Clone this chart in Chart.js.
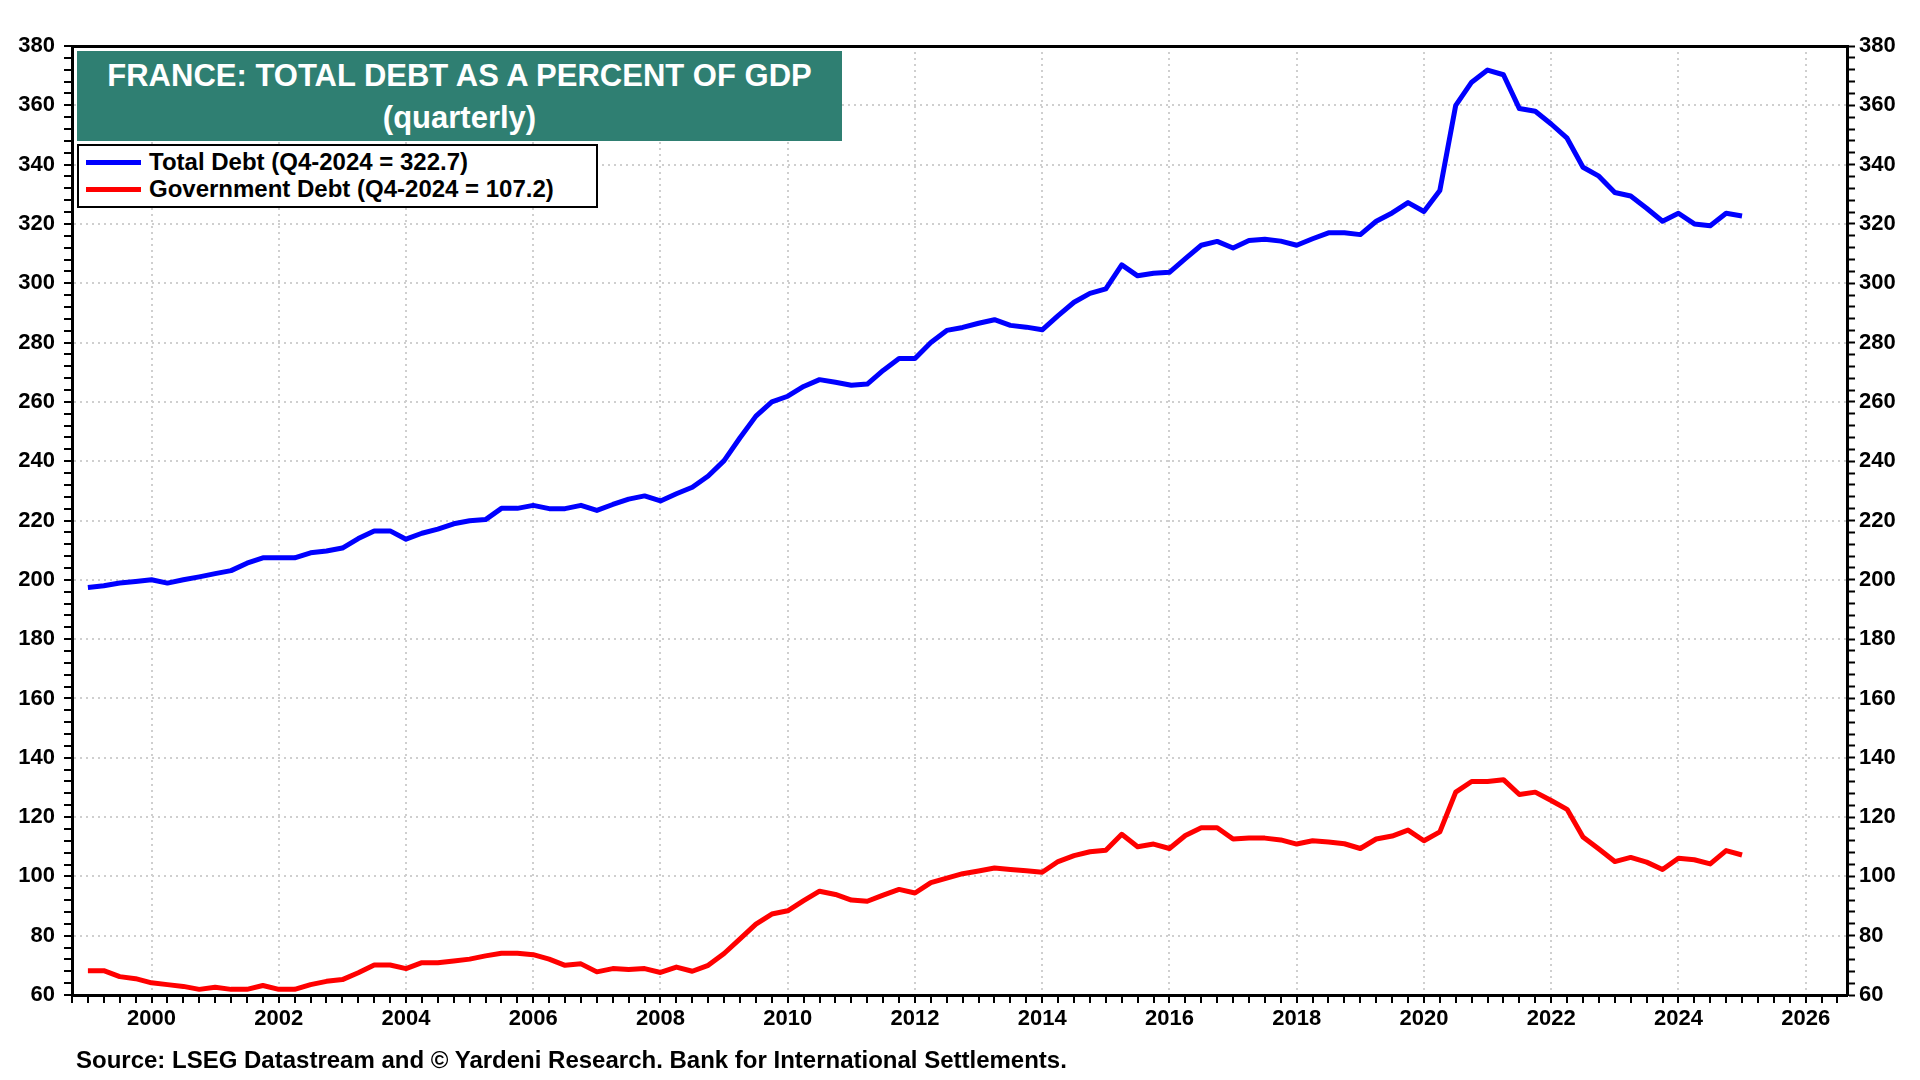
<!DOCTYPE html>
<html>
<head>
<meta charset="utf-8">
<script src="https://cdn.jsdelivr.net/npm/chart.js@4.4.1/dist/chart.umd.min.js"></script>
<style>
  html, body { margin: 0; padding: 0; background: #fff; }
  #wrap { position: relative; width: 1920px; height: 1080px; overflow: hidden; font-family: "Liberation Sans", Arial, sans-serif; }
  #c { position: absolute; left: 0; top: 0; }
  #titleBox { position: absolute; left: 77px; top: 51px; width: 765px; height: 90px; background: #2f7f72; color: #fff; font-weight: bold; text-align: center; }
  #titleBox .l1 { position: absolute; left: 0; right: 0; top: 7px; font-size: 31px; line-height: 36px; }
  #titleBox .l2 { position: absolute; left: 0; right: 0; top: 49px; font-size: 31px; line-height: 36px; }
  #legendBox { position: absolute; left: 77px; top: 144px; width: 517px; height: 60px; border: 2px solid #000; background: #fff; }
  .legItem { position: absolute; left: 0; height: 28px; font-weight: bold; font-size: 24px; line-height: 28px; color: #000; white-space: nowrap; }
  .legItem .sw { position: absolute; left: 7px; top: 12px; width: 55px; height: 5px; }
  .legItem .tx { position: absolute; left: 70px; top: 0; }
  #source { position: absolute; left: 76px; top: 1046px; font-weight: bold; font-size: 24px; line-height: 28px; color: #000; white-space: nowrap; }
</style>
</head>
<body>
<div id="wrap">
  <canvas id="c" width="1920" height="1080"></canvas>
  <div id="titleBox"><div class="l1">FRANCE: TOTAL DEBT AS A PERCENT OF GDP</div><div class="l2">(quarterly)</div></div>
  <div id="legendBox">
    <div class="legItem" style="top:2px;"><div class="sw" style="background:#0000ff"></div><div class="tx">Total Debt (Q4-2024 = 322.7)</div></div>
    <div class="legItem" style="top:29px;"><div class="sw" style="background:#ff0000"></div><div class="tx">Government Debt (Q4-2024 = 107.2)</div></div>
  </div>
  <div id="source">Source: LSEG Datastream and © Yardeni Research. Bank for International Settlements.</div>
</div>
<script>
// ---- Data (quarterly, Q4-1998 .. Q4-2024) ----
const firstYear = 1998;
const firstQuarter = 4;
const quarterCount = 105;

const totalDebt = [
  197.4, 198.0, 198.9, 199.4,
  200.0, 198.9, 200.0, 201.0,
  202.1, 203.1, 205.6, 207.4,
  207.4, 207.4, 209.1, 209.7,
  210.7, 213.9, 216.5, 216.5,
  213.7, 215.7, 217.1, 218.9,
  219.9, 220.3, 224.1, 224.1,
  225.1, 224.0, 224.0, 225.1,
  223.4, 225.4, 227.2, 228.3,
  226.6, 229.0, 231.2, 235.0,
  240.2, 247.9, 255.2, 260.0,
  261.9, 265.2, 267.5, 266.6,
  265.6, 266.0, 270.6, 274.6,
  274.6, 280.0, 284.1, 285.1,
  286.5, 287.7, 285.8, 285.2,
  284.3, 289.1, 293.6, 296.6,
  298.1, 306.2, 302.5, 303.4,
  303.7, 308.3, 312.8, 314.1,
  311.9, 314.4, 314.8, 314.2,
  312.8, 315.0, 317.0, 317.0,
  316.4, 320.9, 323.7, 327.2,
  324.2, 331.3, 360.0, 367.8,
  371.9, 370.3, 358.9, 358.0,
  353.7, 348.9, 339.1, 336.1,
  330.6, 329.4, 325.3, 320.9,
  323.6, 320.0, 319.4, 323.6,
  322.7
];

const governmentDebt = [
  68.2, 68.2, 66.2, 65.5,
  64.1, 63.5, 62.9, 61.9,
  62.6, 61.9, 61.9, 63.2,
  61.9, 61.9, 63.5, 64.6,
  65.2, 67.5, 70.1, 70.1,
  68.9, 70.9, 70.9, 71.5,
  72.1, 73.2, 74.1, 74.1,
  73.6, 72.1, 70.0, 70.5,
  67.8, 68.9, 68.6, 68.9,
  67.6, 69.4, 68.0, 70.0,
  74.0, 78.9, 83.9, 87.3,
  88.4, 91.8, 95.0, 93.9,
  92.0, 91.6, 93.7, 95.6,
  94.4, 97.9, 99.4, 100.9,
  101.8, 102.8, 102.3, 101.9,
  101.4, 105.0, 107.0, 108.3,
  108.8, 114.2, 110.0, 110.9,
  109.4, 113.8, 116.4, 116.4,
  112.6, 112.9, 112.9, 112.3,
  110.9, 112.0, 111.6, 111.0,
  109.4, 112.6, 113.6, 115.6,
  112.0, 115.0, 128.4, 132.0,
  132.0, 132.6, 127.6, 128.4,
  125.6, 122.6, 113.3, 109.2,
  105.0, 106.4, 104.8, 102.3,
  106.1, 105.6, 104.2, 108.7,
  107.2
];

const seriesNames = ["Total Debt (Q4-2024 = 322.7)", "Government Debt (Q4-2024 = 107.2)"];
const seriesColors = ["#0000ff", "#ff0000"];

// Axis settings
const xMin = 1998.75, xMax = 2026.65;
const xLabelEvery = 2;          // years between labels
const xMinorStep = 0.25;        // quarterly minor ticks
const yMin = 60, yMax = 380;
const yLabelStep = 20;
const yMinorStep = 4;

// quarter labels -> plotted at quarter end (decimal year)
const quarterLabels = [];
for (let i = 0; i < quarterCount; i++) {
  const q0 = firstQuarter - 1 + i;
  const yr = firstYear + Math.floor(q0 / 4);
  const q = (q0 % 4) + 1;
  quarterLabels.push("Q" + q + "-" + yr);
}
function quarterEnd(label) {
  const q = parseInt(label.slice(1, 2), 10);
  const yr = parseInt(label.slice(3), 10);
  return yr + q / 4;
}
function toPoints(values) {
  return values.map((v, i) => ({ x: quarterEnd(quarterLabels[i]), y: v }));
}

const FONT = { family: "'Liberation Sans', Arial, sans-serif", size: 22, weight: 'bold' };
const GRID_COLOR = '#cfcfcf';

function isXMajor(v) { return Math.abs(v - Math.round(v)) < 1e-6 && Math.round(v) % xLabelEvery === 0; }
function isYMajor(v) { return Math.abs(v % yLabelStep) < 1e-6; }

function xTicks(scale) {
  const t = [];
  for (let v = xMin; v <= xMax + 1e-9; v += xMinorStep) t.push({ value: Math.round(v * 100) / 100 });
  scale.ticks = t;
}
function yTicks(scale) {
  const t = [];
  for (let v = yMin; v <= yMax + 1e-9; v += yMinorStep) t.push({ value: v });
  scale.ticks = t;
}

const yAxisCommon = {
  type: 'linear', min: yMin, max: yMax,
  afterBuildTicks: yTicks,
  ticks: { autoSkip: false, font: FONT, color: '#000', padding: 9, callback: v => isYMajor(v) ? String(v) : '' },
  border: { display: true, color: '#000', width: 3, dash: [2, 4] },
};

new Chart(document.getElementById('c'), {
  type: 'line',
  data: {
    datasets: [
      { label: seriesNames[0], data: toPoints(totalDebt), borderColor: seriesColors[0], borderWidth: 5, pointRadius: 0, tension: 0, borderJoinStyle: 'round', xAxisID: 'x', yAxisID: 'y' },
      { label: seriesNames[1], data: toPoints(governmentDebt), borderColor: seriesColors[1], borderWidth: 5, pointRadius: 0, tension: 0, borderJoinStyle: 'round', xAxisID: 'x', yAxisID: 'y' },
    ]
  },
  options: {
    responsive: false,
    animation: false,
    devicePixelRatio: 1,
    layout: { padding: 0 },
    plugins: { legend: { display: false }, title: { display: false }, tooltip: { enabled: false } },
    scales: {
      x: {
        type: 'linear', position: 'bottom', min: xMin, max: xMax,
        afterBuildTicks: xTicks,
        afterFit: s => { s.height = 85; },
        ticks: { autoSkip: false, maxRotation: 0, minRotation: 0, font: FONT, color: '#000', padding: 3, callback: v => isXMajor(v) ? String(Math.round(v)) : '' },
        grid: {
          drawOnChartArea: true,
          color: c => (c.tick && isXMajor(c.tick.value)) ? GRID_COLOR : 'rgba(0,0,0,0)',
          lineWidth: 2,
          tickColor: '#000', tickLength: 8, tickWidth: 2,
        },
        border: { display: true, color: '#000', width: 3, dash: [2, 4] },
      },
      xTop: {
        type: 'linear', position: 'top', min: xMin, max: xMax,
        afterFit: s => { s.height = 46; },
        ticks: { display: false },
        grid: { display: false, drawTicks: false },
        border: { display: true, color: '#000', width: 3 },
      },
      y: Object.assign({}, yAxisCommon, {
        position: 'left',
        afterFit: s => { s.width = 72; },
        grid: {
          drawOnChartArea: true,
          color: c => (c.tick && isYMajor(c.tick.value)) ? GRID_COLOR : 'rgba(0,0,0,0)',
          lineWidth: 2,
          tickColor: '#000', tickLength: 8, tickWidth: 2,
        },
      }),
      y2: Object.assign({}, yAxisCommon, {
        position: 'right',
        afterFit: s => { s.width = 73; },
        grid: { drawOnChartArea: false, tickColor: '#000', tickLength: 8, tickWidth: 2 },
        ticks: { autoSkip: false, font: FONT, color: '#000', padding: 4, callback: v => isYMajor(v) ? String(v) : '' },
      }),
    }
  }
});
</script>
</body>
</html>
